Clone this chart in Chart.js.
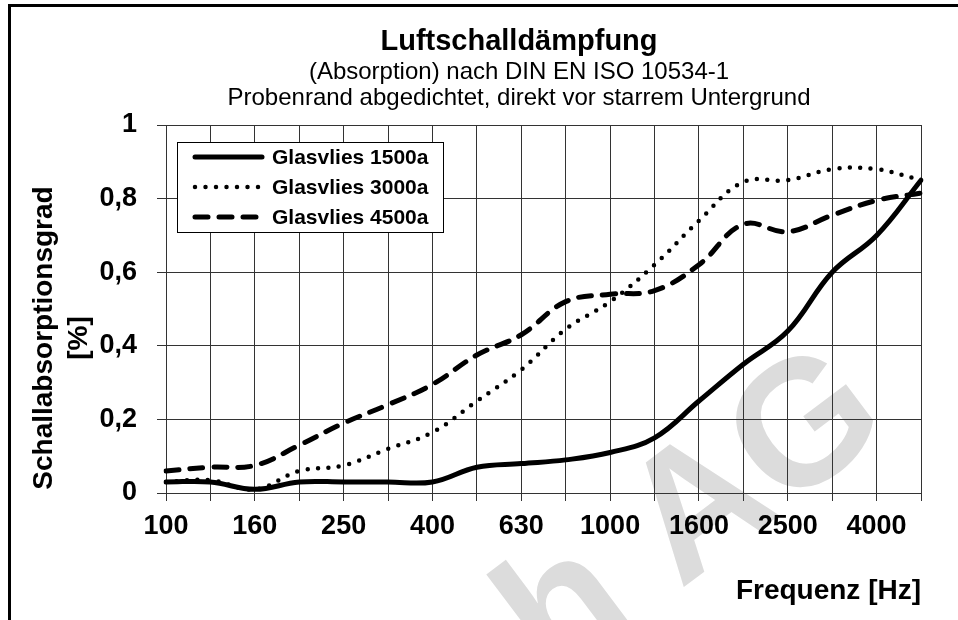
<!DOCTYPE html>
<html>
<head>
<meta charset="utf-8">
<script src="https://cdn.jsdelivr.net/npm/chart.js@4.4.0/dist/chart.umd.min.js"></script>
<style>
  html, body { margin: 0; padding: 0; background: #fff; }
  #wrap { width: 958px; height: 620px; position: relative; }
</style>
</head>
<body>
<div id="wrap"><canvas id="daempfung"></canvas></div>
<script>
// Terzband-Frequenzen (Hz)
const frequencies = ['100', '125', '160', '200', '250', '315', '400', '500', '630', '800',
                     '1000', '1250', '1600', '2000', '2500', '3150', '4000', '5000'];

// Schallabsorptionsgrad je Probe
const glasvlies1500 = [0.03, 0.03, 0.01, 0.03, 0.03, 0.03, 0.03, 0.07, 0.08, 0.09,
                       0.11, 0.15, 0.25, 0.35, 0.44, 0.60, 0.70, 0.85];
const glasvlies3000 = [0.03, 0.035, 0.01, 0.06, 0.075, 0.12, 0.165, 0.25, 0.335, 0.445,
                       0.52, 0.62, 0.74, 0.845, 0.85, 0.88, 0.88, 0.85];
const glasvlies4500 = [0.06, 0.07, 0.075, 0.13, 0.19, 0.24, 0.295, 0.375, 0.43, 0.52,
                       0.54, 0.55, 0.62, 0.73, 0.71, 0.755, 0.795, 0.815];

const seriesLabels = ['Glasvlies 1500a', 'Glasvlies 3000a', 'Glasvlies 4500a'];
const titleText = 'Luftschalldämpfung';
const subtitleLines = ['(Absorption) nach DIN EN ISO 10534-1',
                       'Probenrand abgedichtet, direkt vor starrem Untergrund'];
const yAxisTitle = ['Schallabsorptionsgrad', '[%]'];
const xAxisTitle = 'Frequenz [Hz]';
const watermarkText = 'h AG';

const FONT = "'Liberation Sans', Arial, Helvetica, sans-serif";

// Rahmen, Wasserzeichen, Titel, Y-Achsentitel und Legende
const decoPlugin = {
  id: 'deco',
  beforeDraw(chart) {
    const ctx = chart.ctx;
    ctx.save();
    ctx.fillStyle = '#dcdcdc';
    ctx.font = 'bold 178px ' + FONT;
    ctx.textBaseline = 'alphabetic';
    ctx.translate(554, 685);
    ctx.rotate(-37 * Math.PI / 180);
    ctx.fillText(watermarkText, 0, 0);
    ctx.restore();
  },
  afterDraw(chart) {
    const ctx = chart.ctx;
    ctx.save();
    // dicker Rahmen links/oben
    ctx.strokeStyle = '#000';
    ctx.lineWidth = 3;
    ctx.beginPath();
    ctx.moveTo(9.5, 630);
    ctx.lineTo(9.5, 5.5);
    ctx.lineTo(970, 5.5);
    ctx.stroke();

    // Titel und Untertitel (im Original bei x~519 zentriert)
    ctx.fillStyle = '#000';
    ctx.textAlign = 'center';
    ctx.textBaseline = 'middle';
    ctx.font = 'bold 29px ' + FONT;
    ctx.fillText(titleText, 519, 42);
    ctx.font = '24px ' + FONT;
    subtitleLines.forEach((line, i) => ctx.fillText(line, 519, 72 + i * 26));

    // Y-Achsentitel (zweizeilig, gedreht)
    ctx.font = 'bold 28px ' + FONT;
    ctx.textBaseline = 'alphabetic';
    ctx.translate(52, 338);
    ctx.rotate(-Math.PI / 2);
    ctx.fillText(yAxisTitle[0], 0, 0);
    ctx.fillText(yAxisTitle[1], 0, 35);
    ctx.restore();

    // Legende
    ctx.save();
    const box = { x: 177.5, y: 142.5, w: 266, h: 90 };
    ctx.fillStyle = '#fff';
    ctx.fillRect(box.x, box.y, box.w, box.h);
    ctx.strokeStyle = '#000';
    ctx.lineWidth = 1;
    ctx.strokeRect(box.x, box.y, box.w, box.h);
    chart.data.datasets.forEach((ds, i) => {
      const y = 157 + i * 30;
      ctx.beginPath();
      ctx.lineWidth = ds.borderWidth;
      ctx.lineCap = ds.borderCapStyle || 'butt';
      ctx.setLineDash(ds.borderDash || []);
      ctx.moveTo(195, y);
      ctx.lineTo(262, y);
      ctx.stroke();
      ctx.setLineDash([]);
      ctx.fillStyle = '#000';
      ctx.font = 'bold 21px ' + FONT;
      ctx.textBaseline = 'middle';
      ctx.textAlign = 'left';
      ctx.fillText(ds.label, 272, y + 1);
    });
    ctx.restore();
  }
};

const ctx = document.getElementById('daempfung').getContext('2d');
const chart = new Chart(ctx, {
  type: 'line',
  data: {
    labels: frequencies,
    datasets: [
      {
        label: seriesLabels[0],
        data: glasvlies1500,
        borderColor: '#000',
        borderWidth: 5,
        borderCapStyle: 'round',
        pointRadius: 0,
        tension: 0.4
      },
      {
        label: seriesLabels[1],
        data: glasvlies3000,
        borderColor: '#000',
        borderWidth: 4.5,
        borderDash: [0, 10.5],
        borderCapStyle: 'round',
        pointRadius: 0,
        tension: 0.4
      },
      {
        label: seriesLabels[2],
        data: glasvlies4500,
        borderColor: '#000',
        borderWidth: 5,
        borderDash: [13, 11],
        borderCapStyle: 'round',
        pointRadius: 0,
        tension: 0.4
      }
    ]
  },
  options: {
    responsive: true,
    maintainAspectRatio: false,
    animation: false,
    layout: { padding: { top: 125, left: 0, right: 37, bottom: 0 } },
    plugins: {
      legend: { display: false },
      tooltip: { enabled: false },
      title: { display: false }
    },
    scales: {
      x: {
        offset: false,
        grid: { color: '#333', lineWidth: 1, tickLength: 8, drawTicks: true },
        border: { color: '#333' },
        ticks: {
          color: '#000',
          autoSkip: false,
          maxRotation: 0,
          padding: 9,
          font: { family: FONT, size: 27, weight: 'bold' },
          callback: (val, i) => (i % 2 === 0 ? frequencies[i] : '')
        },
        title: {
          display: true,
          text: xAxisTitle,
          align: 'end',
          color: '#000',
          font: { family: FONT, size: 28, weight: 'bold', lineHeight: 1.2 },
          padding: { top: 0, bottom: 12 }
        },
        afterFit: (scale) => { scale.height = 127; }
      },
      y: {
        min: 0,
        max: 1,
        grid: { color: '#333', lineWidth: 1, tickLength: 9 },
        border: { color: '#333' },
        ticks: {
          stepSize: 0.2,
          color: '#000',
          padding: 20,
          font: { family: FONT, size: 27, weight: 'bold' },
          callback: (v) => String(Math.round(v * 10) / 10).replace('.', ',')
        },
        afterFit: (scale) => { scale.width = 166; }
      }
    }
  },
  plugins: [decoPlugin]
});
</script>
</body>
</html>
